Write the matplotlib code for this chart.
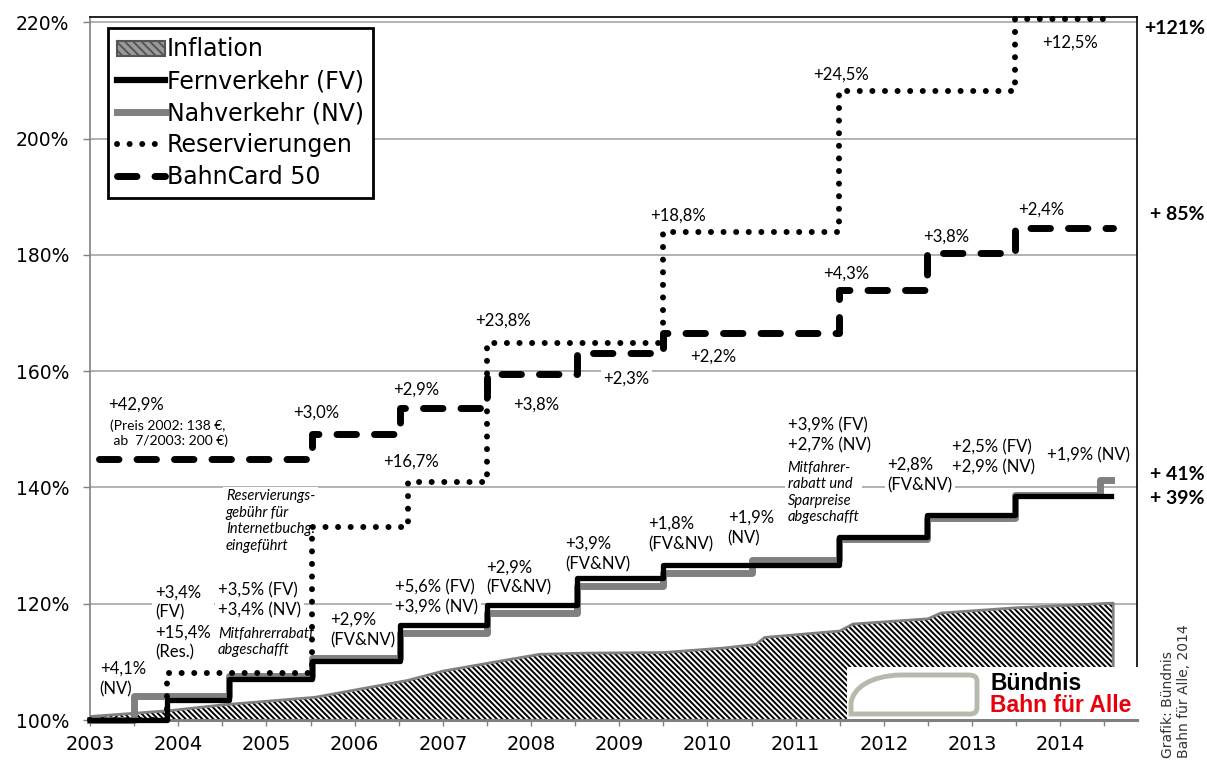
import matplotlib.pyplot as plt
from matplotlib.patches import Patch, PathPatch
from matplotlib.lines import Line2D
from matplotlib.path import Path
from matplotlib.ticker import MultipleLocator, FuncFormatter

# Preisentwicklung, Index 2003 = 100 %
fv_jahr = [2003.0, 2003.87, 2004.58, 2005.52, 2006.52, 2007.5, 2008.52, 2009.5, 2011.49, 2012.49, 2013.49, 2014.57]
fv_wert = [100.0, 103.4, 107.0, 110.1, 116.3, 119.7, 124.4, 126.6, 131.5, 135.2, 138.6, 138.6]

nv_jahr = [2003.0, 2003.5, 2004.58, 2005.52, 2006.52, 2007.5, 2008.52, 2009.5, 2010.5, 2011.49, 2012.49, 2013.49, 2014.45, 2014.57]
nv_wert = [100.0, 104.1, 107.6, 110.7, 115.0, 118.4, 123.0, 125.2, 127.6, 131.1, 134.8, 138.7, 141.3, 141.3]

res_jahr = [2003.0, 2003.87, 2005.52, 2006.6, 2007.5, 2009.5, 2011.49, 2013.49, 2014.53]
res_wert = [100.0, 108.0, 133.2, 141.0, 164.9, 183.9, 208.1, 220.5, 220.5]

bc_jahr = [2003.1, 2005.52, 2006.52, 2007.5, 2008.52, 2009.5, 2011.49, 2012.49, 2013.49, 2014.6]
bc_wert = [144.9, 149.2, 153.6, 159.5, 163.1, 166.6, 173.9, 180.3, 184.6, 184.6]

infl_jahr = [2003.0, 2003.9, 2004.5, 2005.55, 2006.6, 2007.0, 2007.6, 2008.1, 2008.6, 2009.5,
             2010.2, 2010.55, 2010.65, 2011.5, 2011.65, 2012.5, 2012.65, 2013.5, 2014.6]
infl_wert = [100.6, 101.6, 102.6, 103.9, 106.8, 108.4, 110.0, 111.3, 111.5, 111.6,
             112.4, 113.0, 114.2, 115.3, 116.5, 117.4, 118.4, 119.3, 120.1]

jahre = list(range(2003, 2015))
y_ticks = [100, 120, 140, 160, 180, 200, 220]

plt.rcParams['hatch.linewidth'] = 1.4
plt.rcParams['font.family'] = ['DejaVu Sans']

fig = plt.figure(figsize=(12.07, 7.6), dpi=100)
ax = fig.add_axes([90 / 1207, 40 / 760, 1047 / 1207, 703 / 760])

# Inflation als schraffierte Flaeche
hatch = '\\' * 6
ax.fill_between(infl_jahr, 100, infl_wert, facecolor='white', edgecolor='black',
                hatch=hatch, linewidth=0, zorder=1)
ax.plot(infl_jahr + [infl_jahr[-1]], infl_wert + [100], color='#808080', lw=2, zorder=1.1)

grau = '#808080'
dot_style = (0, (0.01, 2.1))
dash_style = (0, (2.8, 2.6))

ax.step(nv_jahr, nv_wert, where='post', color=grau, lw=5, zorder=3, clip_on=False)
ax.step(fv_jahr, fv_wert, where='post', color='black', lw=3.8, zorder=3.2, clip_on=False)
ax.step(res_jahr, res_wert, where='post', color='black', lw=4.3, linestyle=dot_style,
        dash_capstyle='round', zorder=3.4, clip_on=False)
ax.step(bc_jahr, bc_wert, where='post', color='black', lw=5, linestyle=dash_style,
        dash_capstyle='round', zorder=3.4, clip_on=False)

ax.set_xlim(2003, 2014.87)
ax.set_ylim(100, 220.9)
ax.xaxis.set_major_locator(MultipleLocator(0.5))
ax.xaxis.set_major_formatter(FuncFormatter(lambda v, p: f'{int(round(v))}' if abs(v - round(v)) < 0.01 else ''))
ax.set_yticks(y_ticks)
ax.yaxis.set_major_formatter(FuncFormatter(lambda v, p: f'{int(v)}%'))
ax.tick_params(axis='x', direction='out', length=4, width=1, color=grau, labelsize=14, pad=7)
ax.tick_params(axis='y', direction='out', length=5, width=1, color=grau, labelsize=13.5, pad=10)
ax.grid(axis='y', color='#a6a6a6', lw=1.2, zorder=0)
ax.set_axisbelow(True)
for s in ['top', 'right']:
    ax.spines[s].set_color('black')
    ax.spines[s].set_linewidth(1.2)
ax.spines['left'].set_color(grau)
ax.spines['left'].set_linewidth(1.2)
ax.spines['bottom'].set_color(grau)
ax.spines['bottom'].set_linewidth(2.2)


def notiz(x, y, s, size=12, style='normal'):
    ax.text(x, y, s, fontsize=size, style=style, family='Lato', ha='left', va='center',
            linespacing=1.3 if style == 'normal' else 1.22, zorder=2.5,
            bbox=dict(facecolor='white', edgecolor='none', pad=2))


# Beschriftungen der Preiserhoehungen
notiz(2003.11, 107.05, '+4,1%\n(NV)')
notiz(2003.74, 116.76, '+3,4%\n(FV)\n+15,4%\n(Res.)')
notiz(2004.45, 120.63, '+3,5% (FV)\n+3,4% (NV)')
notiz(2004.45, 113.41, 'Mitfahrerrabatt\nabgeschafft', size=10.5, style='italic')
notiz(2005.72, 115.47, '+2,9%\n(FV&NV)')
notiz(2006.46, 121.06, '+5,6% (FV)\n+3,9% (NV)')
notiz(2007.49, 124.50, '+2,9%\n(FV&NV)')
notiz(2008.39, 128.54, '+3,9%\n(FV&NV)')
notiz(2009.33, 131.98, '+1,8%\n(FV&NV)')
notiz(2010.23, 133.01, '+1,9%\n(NV)')
notiz(2010.91, 148.99, '+3,9% (FV)\n+2,7% (NV)')
notiz(2010.91, 139.11, 'Mitfahrer-\nrabatt und\nSparpreise\nabgeschafft', size=10.5, style='italic')
notiz(2012.04, 142.12, '+2,8%\n(FV&NV)')
notiz(2012.77, 145.21, '+2,5% (FV)\n+2,9% (NV)')
notiz(2013.85, 145.56, '+1,9% (NV)')

notiz(2003.20, 154.32, '+42,9%')
notiz(2003.23, 149.34, '(Preis 2002: 138 €,\n ab  7/2003: 200 €)', size=10)
notiz(2005.30, 152.78, '+3,0%')
notiz(2006.44, 156.90, '+2,9%')
notiz(2006.32, 144.35, '+16,7%')
notiz(2004.54, 134.21, 'Reservierungs-\ngebühr für\nInternetbuchg.\neingeführt', size=10.5, style='italic')
notiz(2007.37, 168.76, '+23,8%')
notiz(2007.80, 154.32, '+3,8%')
notiz(2008.82, 158.79, '+2,3%')
notiz(2009.80, 162.57, '+2,2%')
notiz(2009.35, 186.82, '+18,8%')
notiz(2011.20, 211.05, '+24,5%')
notiz(2013.79, 216.56, '+12,5%')
notiz(2011.31, 176.84, '+4,3%')
notiz(2012.44, 183.20, '+3,8%')
notiz(2013.52, 187.85, '+2,4%')

# Legende
handles = [
    Patch(facecolor='#9a9a9a', edgecolor='#555555', hatch='\\' * 4, linewidth=1.5),
    Line2D([], [], color='black', lw=4.5),
    Line2D([], [], color=grau, lw=5),
    Line2D([], [], color='black', lw=4.3, linestyle=dot_style, dash_capstyle='round'),
    Line2D([], [], color='black', lw=5, linestyle=dash_style, dash_capstyle='round'),
]
labels = ['Inflation', 'Fernverkehr (FV)', 'Nahverkehr (NV)', 'Reservierungen', 'BahnCard 50']
leg = ax.legend(handles, labels, loc='upper left', bbox_to_anchor=(18 / 1047, 1 - 11 / 703),
                borderaxespad=0, fontsize=17, frameon=True, fancybox=False, edgecolor='black',
                framealpha=1, handlelength=2.0, handletextpad=0.1, labelspacing=0.33,
                borderpad=0.4, handleheight=0.6)
leg.get_frame().set_linewidth(2)
leg.set_zorder(10)

# Gesamtsteigerungen rechts
for txt, ypx in [('+121%', 29), ('+ 85%', 215), ('+ 41%', 475), ('+ 39%', 498)]:
    fig.text(1205 / 1207, 1 - ypx / 760, txt, ha='right', va='center', fontsize=14,
             fontweight='bold', family='Lato')

fig.text(1176 / 1207, 2 / 760, 'Grafik: Bündnis\nBahn für Alle, 2014', rotation=90,
         ha='center', va='bottom', multialignment='left', fontsize=10, color='#333333')

# Logo
lax = fig.add_axes([847 / 1207, 41 / 760, 293 / 1207, 52 / 760], zorder=5)
lax.set_xlim(847, 1140)
lax.set_ylim(719, 667)
lax.set_facecolor('white')
lax.set_xticks([])
lax.set_yticks([])
for s in lax.spines.values():
    s.set_visible(False)
verts = [(851, 714), (851, 703), (853, 688), (870, 676), (900, 675), (968, 675),
         (975, 675), (977, 677), (977, 682), (977, 707), (977, 712), (975, 714),
         (970, 714), (851, 714)]
codes = [Path.MOVETO, Path.LINETO, Path.CURVE4, Path.CURVE4, Path.CURVE4, Path.LINETO,
         Path.CURVE4, Path.CURVE4, Path.CURVE4, Path.LINETO, Path.CURVE4, Path.CURVE4,
         Path.CURVE4, Path.CLOSEPOLY]
lax.add_patch(PathPatch(Path(verts, codes), facecolor='white', edgecolor='#b8b8ad', lw=3.5))
lax.text(990, 684, 'Bündnis', ha='left', va='center', fontsize=16.5, fontweight='bold',
         family='Liberation Sans', color='black')
lax.text(990, 706, 'Bahn für Alle', ha='left', va='center', fontsize=16.5, fontweight='bold',
         family='Liberation Sans', color='#e8000b')

fig.savefig('out.png', dpi=100)
